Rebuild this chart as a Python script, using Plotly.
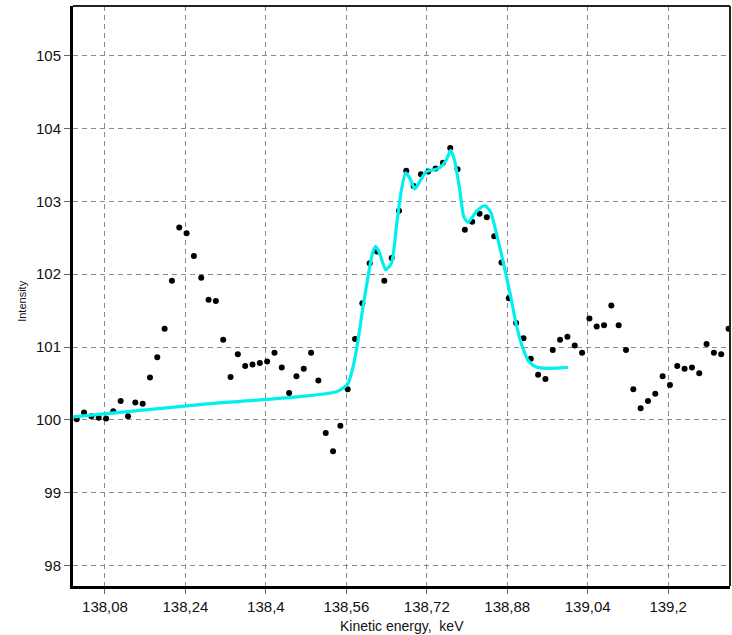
import plotly.graph_objects as go

# Measured data points (energy in keV, intensity)
energy = [
    138.0238, 138.0384, 138.0529, 138.0675, 138.0821, 138.0966, 138.1112, 138.1258, 138.1403, 138.1549,
    138.1695, 138.1840, 138.1986, 138.2131, 138.2277, 138.2423, 138.2568, 138.2714, 138.2860, 138.3005,
    138.3151, 138.3297, 138.3442, 138.3588, 138.3734, 138.3879, 138.4025, 138.4171, 138.4316, 138.4462,
    138.4608, 138.4753, 138.4899, 138.5044, 138.5190, 138.5336, 138.5481, 138.5627, 138.5773, 138.5918,
    138.6064, 138.6210, 138.6355, 138.6501, 138.6647, 138.6792, 138.6938, 138.7084, 138.7229, 138.7375,
    138.7521, 138.7666, 138.7812, 138.7957, 138.8103, 138.8249, 138.8394, 138.8540, 138.8686, 138.8831,
    138.8977, 138.9123, 138.9268, 138.9414, 138.9560, 138.9705, 138.9851, 138.9997, 139.0142, 139.0288,
    139.0434, 139.0579, 139.0725, 139.0870, 139.1016, 139.1162, 139.1307, 139.1453, 139.1599, 139.1744,
    139.1890, 139.2036, 139.2181, 139.2327, 139.2473, 139.2618, 139.2764, 139.2910, 139.3055, 139.3201,
]
intensity = [
    100.01, 100.10, 100.05, 100.03, 100.02, 100.12, 100.26, 100.05, 100.24, 100.22,
    100.58, 100.86, 101.25, 101.91, 102.64, 102.56, 102.25, 101.95, 101.65, 101.63,
    101.10, 100.59, 100.90, 100.74, 100.76, 100.78, 100.80, 100.92, 100.72, 100.37,
    100.60, 100.70, 100.92, 100.54, 99.82, 99.57, 99.92, 100.42, 101.11, 101.60,
    102.15, 102.31, 101.91, 102.22, 102.87, 103.42, 103.21, 103.37, 103.41, 103.45,
    103.53, 103.73, 103.44, 102.61, 102.72, 102.83, 102.78, 102.52, 102.16, 101.67,
    101.33, 101.12, 100.84, 100.62, 100.56, 100.96, 101.10, 101.14, 101.02, 100.92,
    101.39, 101.28, 101.30, 101.57, 101.30, 100.96, 100.42, 100.16, 100.26, 100.36,
    100.60, 100.48, 100.74, 100.70, 100.72, 100.64, 101.04, 100.92, 100.90, 101.25,
]

# Fitted curve (cyan)
fit_energy = [
    138.0164, 138.2688, 138.4675, 138.5371, 138.5504, 138.5635, 138.5734, 138.5834, 138.5933, 138.6033,
    138.6120, 138.6186, 138.6265, 138.6384, 138.6498, 138.6597, 138.6696, 138.6782, 138.6875, 138.6961,
    138.7060, 138.7193, 138.7324, 138.7457, 138.7590, 138.7676, 138.7755, 138.7855, 138.7934, 138.8020,
    138.8187, 138.8352, 138.8465, 138.8584, 138.8715, 138.8849, 138.8982, 138.9113, 138.9232, 138.9365,
    138.9510, 138.9777, 139.0007,
]
fit_intensity = [
    100.04, 100.21, 100.32, 100.38, 100.42, 100.50, 100.73, 101.10, 101.56, 101.97,
    102.29, 102.38, 102.28, 102.06, 102.15, 102.66, 103.16, 103.39, 103.30, 103.17,
    103.27, 103.41, 103.43, 103.46, 103.57, 103.70, 103.55, 103.16, 102.79, 102.71,
    102.86, 102.94, 102.86, 102.56, 102.18, 101.76, 101.30, 100.98, 100.80, 100.73,
    100.71, 100.71, 100.72,
]

x_tick_vals = [138.08, 138.24, 138.40, 138.56, 138.72, 138.88, 139.04, 139.20]
x_tick_labels = ["138,08", "138,24", "138,4", "138,56", "138,72", "138,88", "139,04", "139,2"]
y_tick_vals = [98, 99, 100, 101, 102, 103, 104, 105]

fig = go.Figure()
fig.add_trace(go.Scatter(
    x=energy, y=intensity, mode="markers",
    marker=dict(color="black", size=6, symbol="circle"),
    showlegend=False,
))
fig.add_trace(go.Scatter(
    x=fit_energy, y=fit_intensity, mode="lines",
    line=dict(color="#00F0F0", width=3.2, shape="spline", smoothing=0.6),
    showlegend=False,
))

font = "Liberation Sans, Arial, sans-serif"
fig.update_layout(
    width=732, height=635,
    margin=dict(l=73, r=2, t=6, b=49),
    paper_bgcolor="white", plot_bgcolor="white",
    font=dict(family=font, size=15, color="#111"),
    xaxis=dict(
        range=[138.0164, 139.323],
        tickvals=x_tick_vals, ticktext=x_tick_labels,
        showgrid=True, gridcolor="#8a8a8a", gridwidth=1, griddash="5px,4px",
        showline=True, linecolor="black", linewidth=3,
        ticks="outside", ticklen=5, tickcolor="#666", tickwidth=1,
        zeroline=False,
        tickfont=dict(size=15, family=font, color="#111"),
    ),
    yaxis=dict(
        range=[97.72, 105.68],
        tickvals=y_tick_vals,
        showgrid=True, gridcolor="#8a8a8a", gridwidth=1, griddash="5px,4px",
        showline=True, linecolor="black", linewidth=3,
        ticks="outside", ticklen=6, tickcolor="#666", tickwidth=1,
        zeroline=False,
        tickfont=dict(size=15, family=font, color="#111"),
    ),
    shapes=[
        dict(type="line", xref="paper", yref="paper", x0=0, x1=1, y0=1, y1=1,
             line=dict(color="#222", width=2)),
        dict(type="line", xref="paper", yref="paper", x0=1, x1=1, y0=0, y1=1,
             line=dict(color="#222", width=2)),
    ],
    annotations=[
        dict(text="Kinetic energy,  keV", xref="paper", yref="paper", x=0.5, y=0,
             yshift=-40, xanchor="center", yanchor="middle", showarrow=False,
             font=dict(size=14, family=font, color="#111")),
        dict(text="Intensity", xref="paper", yref="paper", x=0, y=0.49,
             xshift=-51, xanchor="center", yanchor="middle", showarrow=False,
             textangle=-90, font=dict(size=11, family=font, color="#111")),
    ],
)

fig.write_html(
    "out.html",
    config={"displayModeBar": False},
    post_script="document.body.style.margin='0';document.body.style.overflow='hidden';",
)
